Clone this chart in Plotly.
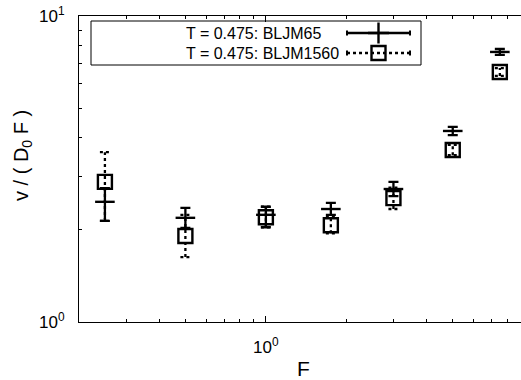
import plotly.graph_objects as go

# Driving force values
F = [0.25, 0.5, 1.0, 1.75, 3.0, 5.0, 7.5]

# BLJM65: scaled velocity with lower / upper bounds
v65 = [2.47, 2.19, 2.24, 2.34, 2.72, 4.21, 7.63]
v65_lo = [2.14, 2.03, 2.04, 2.24, 2.58, 4.08, 7.46]
v65_hi = [2.74, 2.36, 2.38, 2.45, 2.87, 4.34, 7.80]

# BLJM1560: scaled velocity with lower / upper bounds
v1560 = [2.87, 1.91, 2.20, 2.07, 2.54, 3.65, 6.56]
v1560_lo = [2.14, 1.63, 2.04, 1.95, 2.34, 3.51, 6.37]
v1560_hi = [3.59, 2.24, 2.38, 2.20, 2.75, 3.79, 6.76]

labels = ["T = 0.475: BLJM65", "T = 0.475: BLJM1560"]

FONT = "Liberation Sans, Arial, Helvetica, sans-serif"
W, H = 521, 380
ML, MR, MT, MB = 79, 0, 16, 58
PW, PH = W - ML - MR, H - MT - MB

fig = go.Figure()

# BLJM65: horizontal bar marker with solid error bars
fig.add_trace(go.Scatter(
    x=F, y=v65, mode="markers", showlegend=False,
    marker=dict(symbol="line-ew", size=14, color="black",
                line=dict(width=2.4, color="black")),
    error_y=dict(type="data", symmetric=False,
                 array=[h - v for h, v in zip(v65_hi, v65)],
                 arrayminus=[v - l for l, v in zip(v65_lo, v65)],
                 color="black", thickness=2.3, width=5),
))

# BLJM1560: open squares with dotted error bars
cap = 10 ** (5 / 267.5)  # half cap width on the log F axis
ex, ey = [], []
for f, lo, hi in zip(F, v1560_lo, v1560_hi):
    ex += [f, f, None, f / cap, f * cap, None, f / cap, f * cap, None]
    ey += [lo, hi, None, lo, lo, None, hi, hi, None]
fig.add_trace(go.Scatter(
    x=ex, y=ey, mode="lines", showlegend=False, hoverinfo="skip",
    line=dict(color="black", width=2.3, dash="dot"),
))
fig.add_trace(go.Scatter(
    x=F, y=v1560, mode="markers", showlegend=False,
    marker=dict(symbol="square-open", size=14, color="black",
                line=dict(width=2.4, color="black")),
))

# Key box drawn in plot-area (paper) coordinates
def px_x(p):
    return (p - ML) / PW

def px_y(p):
    return 1 - (p - MT) / PH

bx0, bx1, by0, by1 = px_x(91), px_x(421), px_y(65), px_y(21)
sx0, sx1, sxc = px_x(347), px_x(410), px_x(378.5)
rows = [px_y(33), px_y(53)]
capd = 2.5 / PH

shapes = [dict(type="rect", xref="paper", yref="paper", x0=bx0, x1=bx1, y0=by0, y1=by1,
               line=dict(color="black", width=1), fillcolor="white", layer="below")]
for r, dash in zip(rows, ["solid", "dot"]):
    shapes.append(dict(type="line", xref="paper", yref="paper", x0=sx0, x1=sx1, y0=r, y1=r,
                       line=dict(color="black", width=2.3, dash=dash)))
    for xc in (sx0, sx1):
        shapes.append(dict(type="line", xref="paper", yref="paper", x0=xc, x1=xc,
                           y0=r - capd, y1=r + capd, line=dict(color="black", width=2)))

fig.add_trace(go.Scatter(
    x=[sxc], y=[rows[0]], xaxis="x2", yaxis="y2", mode="markers", showlegend=False,
    hoverinfo="skip",
    marker=dict(symbol="cross-thin", size=15, color="black",
                line=dict(width=2.4, color="black")),
))
fig.add_trace(go.Scatter(
    x=[sxc], y=[rows[1]], xaxis="x2", yaxis="y2", mode="markers", showlegend=False,
    hoverinfo="skip",
    marker=dict(symbol="square", size=14, color="white",
                line=dict(width=2.4, color="black")),
))

annotations = [
    dict(x=px_x(184), y=r, xref="paper", yref="paper", text=t, showarrow=False,
         xanchor="left", yanchor="middle", font=dict(family=FONT, size=16, color="black"))
    for r, t in zip(rows, labels)
]
annotations.append(dict(x=px_x(303), y=px_y(369), xref="paper", yref="paper", text="F",
                        showarrow=False, xanchor="center", yanchor="middle",
                        font=dict(family=FONT, size=21, color="black")))
annotations.append(dict(x=px_x(23), y=px_y(156), xref="paper", yref="paper",
                        text="v / ( D<sub>0</sub> F )", textangle=-90, showarrow=False,
                        xanchor="center", yanchor="middle",
                        font=dict(family=FONT, size=20, color="black")))

x_minor = [0.3, 0.4, 0.5, 0.6, 0.7, 0.8, 0.9, 2, 3, 4, 5, 6, 7, 8]
y_minor = [2, 3, 4, 5, 6, 7, 8, 9]

fig.update_layout(
    width=W, height=H, margin=dict(l=ML, r=MR, t=MT, b=MB),
    paper_bgcolor="white", plot_bgcolor="white", showlegend=False,
    font=dict(family=FONT, color="black"),
    shapes=shapes, annotations=annotations,
    xaxis=dict(type="log", range=[-0.69897, 0.954243], showgrid=False, zeroline=False,
               showline=True, linecolor="black", linewidth=1, mirror="ticks",
               ticks="inside", ticklen=6, tickwidth=1, tickcolor="black",
               tickmode="array", tickvals=[1], ticktext=["10<sup>0</sup>"],
               tickfont=dict(family=FONT, size=17, color="black"), ticklabelstandoff=10,
               minor=dict(tickmode="array", tickvals=x_minor, ticks="inside", ticklen=3,
                          tickwidth=1, tickcolor="black", showgrid=False)),
    yaxis=dict(type="log", range=[0, 1], showgrid=False, zeroline=False,
               showline=True, linecolor="black", linewidth=1, mirror=False,
               ticks="inside", ticklen=6, tickwidth=1, tickcolor="black",
               tickmode="array", tickvals=[1, 10], ticktext=["10<sup>0</sup>", "10<sup>1</sup>"],
               tickfont=dict(family=FONT, size=17, color="black"), ticklabelstandoff=10,
               minor=dict(tickmode="array", tickvals=y_minor, ticks="inside", ticklen=3,
                          tickwidth=1, tickcolor="black", showgrid=False)),
    xaxis2=dict(overlaying="x", range=[0, 1], visible=False, fixedrange=True),
    yaxis2=dict(overlaying="y", range=[0, 1], visible=False, fixedrange=True),
)

fig.write_html("out.html")
